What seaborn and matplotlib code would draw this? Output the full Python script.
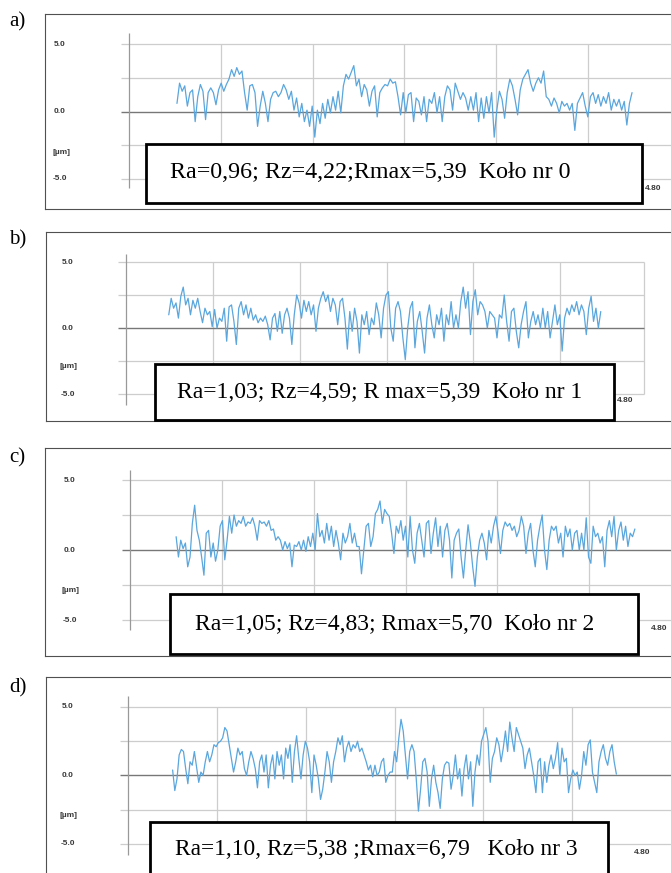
import numpy as np
import matplotlib
matplotlib.use("Agg")
import matplotlib.pyplot as plt
from matplotlib.patches import Rectangle
import seaborn as sns

sns.set_theme(style="white")
plt.rcParams['font.family'] = ['Liberation Sans', 'DejaVu Sans']

# ---------------- data (heights in micrometres) ----------------
panel_tags = ["a)", "b)", "c)", "d)"]
box_texts = [
    "Ra=0,96; Rz=4,22;Rmax=5,39  Koło nr 0",
    "Ra=1,03; Rz=4,59; R max=5,39  Koło nr 1",
    "Ra=1,05; Rz=4,83; Rmax=5,70  Koło nr 2",
    "Ra=1,10, Rz=5,38 ;Rmax=6,79   Koło nr 3",
]
y_tick_values = [5.0, 0.0, -5.0]
y_tick_labels = ["5.0", "0.0", "-5.0"]
unit_label = "[µm]"
end_label = "4.80"
x_grid = [1, 2, 3, 4, 5]
y_grid = [5.0, 2.5, -2.5, -5.0]

profile_start = [0.52, 0.49, 0.50, 0.50]
profile_end = [5.48, 5.47, 5.50, 5.50]

profile_a = [
    0.6, 2.1, 1.5, 1.9, 0.4, 1.4, 1.6, -0.75, 1.1, 2.0, 1.5, -0.6, 1.4, 1.75, 1.4, 0.5,
    1.6, 2.1, 1.5, 2.0, 2.4, 3.1, 2.6, 3.25, 2.75, 3.0, 1.4, 0.1, 1.9, 2.0, 1.4, -1.1,
    0.4, 1.5, 0.6, -0.75, 0.9, 1.4, 1.5, 1.1, 1.4, 2.0, 1.6, 0.9, 1.5, 0.1, 1.0, -0.4,
    0.6, -0.75, 0.1, -1.1, 0.4, -1.9, 0.1, -0.9, 0.6, -0.5, 0.9, -0.1, 1.1, 0.1, 1.5,
    -0.1, 1.9, 2.75, 2.4, 2.9, 3.4, 1.9, 2.4, 1.1, 2.0, 1.6, 0.4, 1.5, 1.9, -0.4, 1.4,
    1.75, 2.0, 1.9, 2.4,
    2.1, 2.2, 1.1, -0.25, 1.4, -0.1, 1.25, 1.4, -0.75, 1.0, 0.75, -0.25, 1.1, -0.75,
    0.9, 0.6, 1.4, -0.1, 1.1, -0.75, 1.1, 1.9, 1.6, 0.1, 2.1, 1.5, 0.9, 1.4, 1.0, 0.1,
    1.1, 0.1, 1.4, -0.75, 1.0, -0.5, 1.1, -0.1, 1.4, -1.9, 0.1, 1.5, 0.9, -0.5, 1.4,
    2.4, 1.9, 0.9, -0.25, 1.6, 2.4, 2.75, 3.1, 2.1, 1.5, 2.1, 2.5, 2.1, 3.0, 1.1, 0.9,
    0.4, 1.0, 0.6, -0.1, 0.75, 0.4, 0.6, 0.1, 0.6, -1.4, 0.6, 1.0, 1.4, 0.4, -0.4, 1.1,
    1.4, 0.6, 1.25, 0.4, 1.1, 0.6, 1.4, 0.1, 0.9, 0.4, 0.9, 0.1, 0.75, -1.0, 0.6, 1.4,
]
profile_b = [
    1.0, 2.25, 1.5, 1.9, 0.75, 2.4, 3.1, 1.75, 2.25, 1.0, 2.1, 1.5, 2.25, 1.25, 0.4, 1.5,
    1.0, 1.25, 0.1, 1.4, 0.0, 0.75, 0.5, 1.5, -1.0, 1.6, 1.75, 0.5, -1.25, 1.5, 2.0, 1.0,
    1.75, 0.75, 1.5, 0.6, 1.0, 0.4, 0.75, 0.5, 0.9, 0.25, -0.9, 0.75, 1.1, -0.25, 1.25,
    -0.4, 1.0, 1.5, 0.75, -1.25, 1.0, 2.5, 1.9, 0.75, 2.1, 1.25, 2.0, 1.0, 1.75, -0.25,
    1.5, 2.25, 2.75, 2.0, 2.5, 1.25, 2.25, 1.75, 0.25, 2.0, 2.25, 0.75, -1.6, 1.25, -0.25,
    1.5, 0.5, -1.9, 1.0, 0.25, 1.25, -0.5, 0.75, 0.25, 1.9, 1.0, -0.75, 1.5, 2.5, 2.75,
    0.0, -1.0, 1.5, 2.0, 1.25, -0.75, -2.4, 0.0, 1.5, 2.0, -1.5, 0.5, 1.25, -0.25, -1.9,
    0.75, 1.75, 0.25, -0.75, 1.0, 0.25, 1.5, -1.0, 1.0, 0.25, 2.0, 0.0, 1.0, 0.0, 2.0,
    3.1, 1.5, 2.75, -0.5, 2.0, 2.9, 1.0, 2.0, 1.75, 1.25, 0.0, 1.25, 1.0, 0.75, -0.75,
    1.0, 0.75, 2.5, 0.5, -1.0, 1.25, 1.5, -0.25, -1.5, 0.25, 1.25, 2.0, -0.75, 0.5, 1.25,
    0.25, 1.0, 0.0, 1.5, 0.0, 1.25, -0.75, 0.5, 1.75, 0.25, 1.0, -1.75, 0.75, 1.5, 1.0,
    1.75, 1.25, 2.0, 1.0, 1.75, 1.25, -0.5, 1.5, 2.4, 0.5, 1.5, 0.0, 1.25,
]
profile_c = [
    0.95, -0.5, 0.7, 0.1, 0.5, -1.2, -0.5, 1.9, 3.2, 1.4, 0.7, -0.5, -1.8, 1.2, 1.4, -0.5,
    0.5, -0.8, 0.0, 1.7, 2.1, -0.7, 0.7, 2.4, 1.2, 2.5, 1.7, 2.1, 1.9, 2.4, 1.7, 2.0, 1.9,
    2.3, 1.7, 0.7, 2.1, 1.9, 2.0, 1.7, 2.1, 1.4, 1.5, 0.7, 0.95, 0.7, 0.0, 0.6, 0.1, 0.5,
    -1.2, 0.35, 0.25, 0.6, 0.0, 0.7, -0.1, 0.95, 0.25, 1.2, 0.0, 2.6, 0.95, 1.4, 0.5, 1.9,
    0.7, 1.7, 0.25, 1.4, 0.5, -0.7, 1.2, 0.5, 0.95, 1.9, 0.5, 1.2, 0.25, 0.25, -1.7, 0.0,
    1.7, 1.9, 0.25, 0.95, 2.6, 2.9, 3.5, 1.9, 2.9, 2.6, 2.4, 1.2, -0.25, 1.7, 1.2, 2.1,
    0.7, 1.7, -0.5, 2.4, 0.0, -0.95, 1.2, 1.9, 0.7, -0.5, 1.9, 2.1, -0.25, 1.2, 2.3, 0.25,
    1.7, -0.5, 1.4, 1.9, 0.7, -2.0, 0.7, 1.2, 1.5, -0.5, -2.0, 0.0, 1.8, 0.5, -1.2, -2.6,
    -0.5, 0.7, 1.2, 0.5, -0.7, 1.4, 0.5, 1.7, 2.4, 1.2, -0.25, 1.4, 2.0, 1.7, 1.9, 1.4,
    1.7, 0.95, 1.4, 2.4, 1.7, -0.25, 1.2, 1.9, 0.0, -1.2, 0.7, 1.7, 2.5, 0.0, -1.4, 0.7,
    1.7, 1.4, 1.7, 0.5, 1.2, -0.5, 1.7, 0.95, 1.5, 0.0, 1.2, 1.4, 0.0, 1.2, 0.0, 2.3, -0.5,
    -0.95, 1.7, 0.95, 1.2, 0.5, 0.95, -1.2, 1.4, 2.1, 0.95, 2.4, 0.0, 1.4, 2.0, 0.7, 1.7,
    0.25, 1.2, 0.95, 1.5,
]
profile_d = [
    0.4, -1.1, -0.25, 1.5, 1.9, 1.75, 0.5, -0.6, 1.0, 0.75, 1.75, 0.6, -0.5, 0.25, 0.0,
    1.0, 1.75, 1.0, 1.5, 2.25, 2.1, 2.4, 2.5, 2.75, 3.5, 3.25, 2.25, 1.25, 0.25, 1.0, 2.0,
    1.5, 1.75, 0.5, 0.0, 1.0, 1.75, 1.25, 0.5, -0.9, 1.0, 1.5, 0.25, 1.5, -0.9, 0.75, 1.5,
    -0.25, 1.75, 0.75, 1.5, -0.25, 2.0, 1.25, 2.25, -0.5, 1.75, 2.9, 1.25, -0.25, 1.5, 2.5,
    2.0, 1.0, -1.25, 1.5, 0.75, -0.25, -1.75, -1.0, 0.25, 1.75, 1.0, -0.5, 1.0, 1.75, 2.75,
    2.25, 2.9, 1.0, 2.0, 2.5, 1.75, 2.25, 2.0, 2.5, 1.75, 2.0, 1.5, 1.0, 0.4, 0.75, -0.1,
    0.75, 0.0, 0.25, 1.0, 1.25, -0.5, 0.0, 0.25, 0.25, 1.75, 1.0, 2.75, 4.1, 3.25, 1.5,
    -0.25, 1.75, 2.25, 1.75, -0.25, -2.6, -1.0, 1.0, 1.25, 0.25, -2.25, -0.25, 0.75, -0.5,
    -1.25, -2.4, -0.25, 0.75, 1.0, 0.9, -1.0, 0.0, 1.5, -0.25, 0.5, -1.5, 0.5, 1.5, -0.25,
    1.0, -2.25, 0.25, 1.5, 0.75, 2.5, 3.0, 3.5, 2.5, -0.5, 1.25, 1.75, 2.75, 2.25, 1.0,
    2.0, 3.25, 1.75, 3.9, 2.75, 1.75, 3.5, 3.0, 2.5, 2.0, 0.5, 1.5, 2.0, 1.0, 0.0, -1.25,
    1.0, 1.25, -1.25, 1.0, -0.5, 0.75, 1.5, 0.5, 1.25, 2.4, 0.0, 2.0, 1.0, 1.25, -1.25,
    -0.25, 0.4, 0.0, 0.25, -1.0, 0.0, 1.75, 0.75, 2.25, 2.6, 0.25, -0.5, -1.25, 1.0, 1.75,
    2.25, 1.25, 0.75, 1.75, 2.25, 1.0, 0.1,
]
profiles = [profile_a, profile_b, profile_c, profile_d]

# ---------------- layout (pixels of the 671x873 picture) ----------------
W, H = 671, 873
layouts = [
    dict(L=45, T=14, B=209, X0=129.25, S=91.75, Y0=111.5, K=13.5, ax_top=33, ax_bot=188,
         right=None, lab_x=60, um_y=152, box=(145.5, 144, 642, 203), text=(171, 569, 173),
         end=(653, 188), tag_y=22),
    dict(L=46, T=232, B=421, X0=126.25, S=86.75, Y0=328, K=13.2, ax_top=254, ax_bot=405,
         right=644, lab_x=68, um_y=367, box=(155, 364, 614, 420), text=(178, 582, 392),
         end=(625, 401), tag_y=240),
    dict(L=45, T=448, B=656, X0=130.25, S=91.75, Y0=550, K=14.0, ax_top=470, ax_bot=630,
         right=None, lab_x=70, um_y=591, box=(170, 594, 638, 654), text=(195, 595, 624),
         end=(659, 629), tag_y=458),
    dict(L=46, T=677, B=895, X0=128.25, S=88.75, Y0=775.5, K=13.7, ax_top=696, ax_bot=855,
         right=None, lab_x=68, um_y=816, box=(150, 822, 608, 900), text=(175, 577, 850),
         end=(642, 853), tag_y=688),
]

LINE_COLOR = "#5aa6dd"
GRID_COLOR = "#cdcdcd"
ZERO_COLOR = "#777777"
AXIS_COLOR = "#999999"
TICK_COLOR = "#383838"

fig = plt.figure(figsize=(W / 100, H / 100), dpi=100)
fig.patch.set_facecolor("white")
renderer = fig.canvas.get_renderer()

for i, lay in enumerate(layouts):
    L, T, B = lay["L"], lay["T"], lay["B"]
    R = 690
    X0, S, Y0, K = lay["X0"], lay["S"], lay["Y0"], lay["K"]
    u = lambda x, X0=X0, S=S: (x - X0) / S
    v = lambda y, Y0=Y0, K=K: (Y0 - y) / K

    ax = fig.add_axes([L / W, 1 - B / H, (R - L) / W, (B - T) / H])
    ax.set_xlim(u(L), u(R))
    ax.set_ylim(v(B), v(T))
    ax.set_facecolor("white")
    for side in ["left", "top", "bottom", "right"]:
        ax.spines[side].set_color("#505050")
        ax.spines[side].set_linewidth(0.8)
    ax.spines["right"].set_visible(False)

    x_right = u(lay["right"]) if lay["right"] else u(R)
    x_left = u(lay["X0"] - 8)

    # grid
    ax.hlines(y_grid, x_left, x_right, color=GRID_COLOR, lw=0.9, zorder=1)
    ax.vlines(x_grid, -5, 5, color=GRID_COLOR, lw=0.9, zorder=1)
    if lay["right"]:
        ax.vlines([x_right], -5, 5, color=GRID_COLOR, lw=0.9, zorder=1)
    ax.hlines([0.0], x_left, x_right, color=ZERO_COLOR, lw=1.0, zorder=2)
    ax.vlines([0.0], v(lay["ax_bot"]), v(lay["ax_top"]), color=AXIS_COLOR, lw=0.9, zorder=2)

    # profile
    ys = np.array(profiles[i])
    xs = np.linspace(profile_start[i], profile_end[i], len(ys))
    sns.lineplot(x=xs, y=ys, ax=ax, color=LINE_COLOR, linewidth=0.9,
                 estimator=None, sort=False, legend=False, zorder=3)
    ax.set_xlabel("")
    ax.set_ylabel("")
    ax.set_xticks([])
    ax.set_yticks([])

    # tick labels
    for val, lab in zip(y_tick_values, y_tick_labels):
        ax.text(u(lay["lab_x"]), val, lab, ha="center", va="center", fontsize=6,
                fontweight="bold", color=TICK_COLOR)
    ax.text(u(lay["lab_x"] + 1), v(lay["um_y"]), unit_label, ha="center", va="center",
            fontsize=6, fontweight="bold", color=TICK_COLOR)
    ax.text(u(lay["end"][0]), v(lay["end"][1]), end_label, ha="center", va="center",
            fontsize=6, fontweight="bold", color=TICK_COLOR, zorder=4)

    # annotation box
    bx0, by0, bx1, by1 = lay["box"]
    ax.add_patch(Rectangle((u(bx0), v(by1)), (bx1 - bx0) / S, (by1 - by0) / K,
                           facecolor="white", edgecolor="black", lw=2.0,
                           zorder=5, clip_on=False))
    tx0, tx1, ty = lay["text"]
    t = ax.text(u((tx0 + tx1) / 2), v(ty), box_texts[i], ha="center", va="center",
                fontsize=12, family=["Liberation Serif", "DejaVu Serif"],
                color="black", zorder=6)
    wpx = t.get_window_extent(renderer).width
    t.set_fontsize(12 * (tx1 - tx0) / wpx)

    # panel tag
    fig.text(9 / W, 1 - lay["tag_y"] / H, panel_tags[i], ha="left", va="center",
             fontsize=15, family=["Liberation Serif", "DejaVu Serif"], color="black")

fig.savefig("out.png", dpi=100, facecolor="white")
